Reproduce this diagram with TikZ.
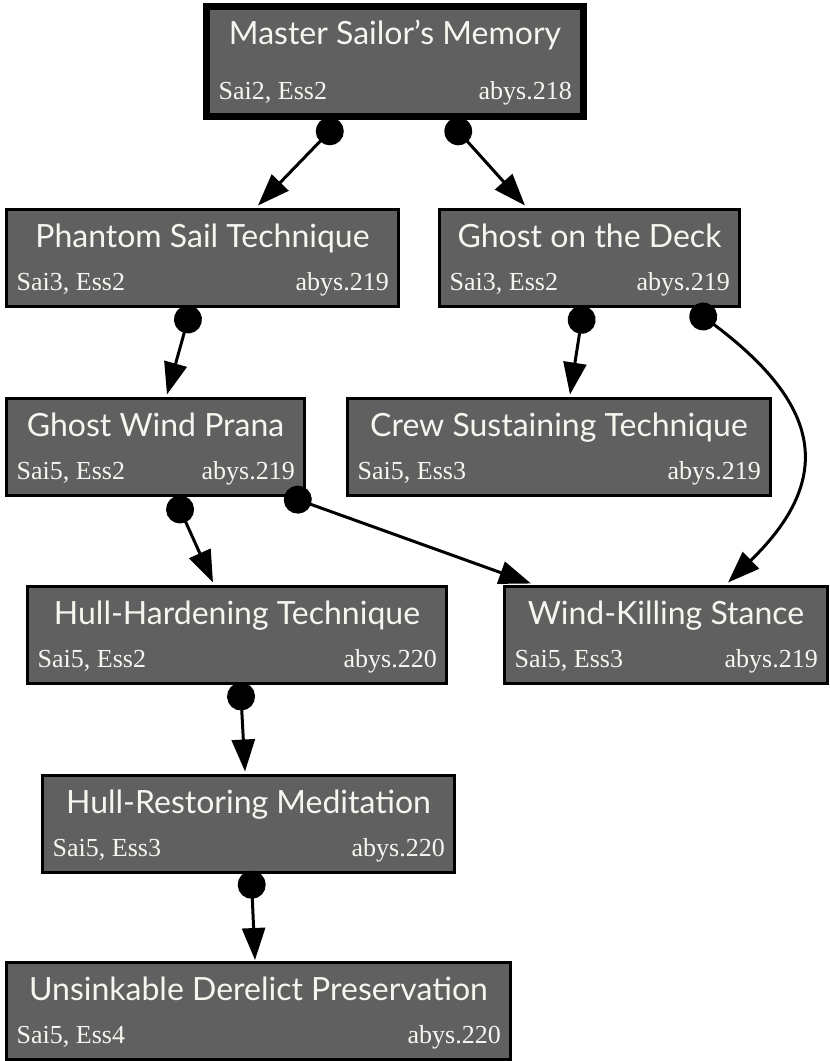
\documentclass[tikz,border=0pt]{standalone}
\usepackage{fontspec}
\setmainfont{Liberation Serif}
\newfontfamily\titlefont{Lato}
\usetikzlibrary{arrows.meta,calc}

\definecolor{boxfill}{RGB}{95,96,95}
\definecolor{boxtext}{RGB}{246,246,240}

\tikzset{
  box/.style={draw=black, line width=3pt, fill=boxfill, inner sep=0pt,
              minimum height=97pt},
  masterbox/.style={box, line width=7pt, minimum height=110pt},
  title/.style={font=\titlefont\fontsize{32}{32}\selectfont, text=boxtext,
                inner sep=0pt, anchor=base},
  statl/.style={font=\fontsize{26}{26}\selectfont, text=boxtext,
                inner sep=0pt, anchor=base west},
  statr/.style={font=\fontsize{26}{26}\selectfont, text=boxtext,
                inner sep=0pt, anchor=base east},
  link/.style={line width=3pt, draw=black,
               {Circle[length=28pt,width=28pt]}-{Triangle[length=32pt,width=23pt]}}
}

% \skillbox{name}{centre}{width}{title}{left stats}{right stats}
\newcommand{\skillbox}[6]{%
  \node[box, minimum width=#3pt] (#1) at (#2) {};
  \node[title] (#1-t) at ($(#1.north)+(0,39.5)$) {#4};
  \node[statl] (#1-l) at ($(#1.south west)+(11.5,-17.5)$) {#5};
  \node[statr] (#1-r) at ($(#1.south east)+(-11,-17.5)$) {#6};
}

\begin{document}
\begin{tikzpicture}[x=1pt,y=-1pt]
\useasboundingbox (0,0) rectangle (830,1061);

% top node with the heavy frame
\node[masterbox, minimum width=377pt] (n1) at (395,61.5) {};
\node[title] (n1-t) at ($(n1.north)+(0,41.5)$) {Master Sailor’s Memory};
\node[statl] (n1-l) at ($(n1.south west)+(15.5,-20.5)$) {Sai2, Ess2};
\node[statr] (n1-r) at ($(n1.south east)+(-15,-20.5)$) {abys.218};

\skillbox{n2}{202.5,258}{392}{Phantom Sail Technique}{Sai3, Ess2}{abys.219}
\skillbox{n3}{589.5,258}{300}{Ghost on the Deck}{Sai3, Ess2}{abys.219}
\skillbox{n4}{155.5,447}{298}{Ghost Wind Prana}{Sai5, Ess2}{abys.219}
\skillbox{n5}{559,447}{423}{Crew Sustaining Technique}{Sai5, Ess3}{abys.219}
\skillbox{n6}{237,635}{419}{Hull-Hardening Technique}{Sai5, Ess2}{abys.220}
\skillbox{n7}{666,635}{323}{Wind-Killing Stance}{Sai5, Ess3}{abys.219}
\skillbox{n8}{248.5,824}{412}{Hull-Restoring Meditation}{Sai5, Ess3}{abys.220}
\skillbox{n9}{258.5,1011}{504}{Unsinkable Derelict Preservation}{Sai5, Ess4}{abys.220}

% prerequisite links: dot at the source, arrowhead at the target
\draw[link] ($(n1.south)+(-55.5,1.2)$) -- ($(n2.north)+(55.5,-2.5)$);
\draw[link] ($(n1.south)+(53.9,0.9)$) -- ($(n3.north)+(-64.5,-2.5)$);
\draw[link] ($(n2.south)+(-10.8,-2)$) -- ($(n4.north)+(11.5,-2.5)$);
\draw[link] ($(n3.south)+(-5.7,-2)$) -- ($(n5.north)+(11,-2.5)$);
\draw[link] ($(n3.south)+(102.5,0.1)$) .. controls (812,398) and (842,472) .. ($(n7.north)+(62,-2.5)$);
\draw[link] ($(n4.south)+(18.8,-0.3)$) -- ($(n6.north)+(-24,-2.5)$);
\draw[link] ($(n4.south)+(129.1,-2.1)$) -- ($(n7.north)+(-135,-1.5)$);
\draw[link] ($(n6.south)+(3.3,-2.5)$) -- ($(n8.north)+(-3.5,-2.5)$);
\draw[link] ($(n8.south)+(2.6,-3.2)$) -- ($(n9.north)+(-3.5,-1)$);
\end{tikzpicture}
\end{document}
